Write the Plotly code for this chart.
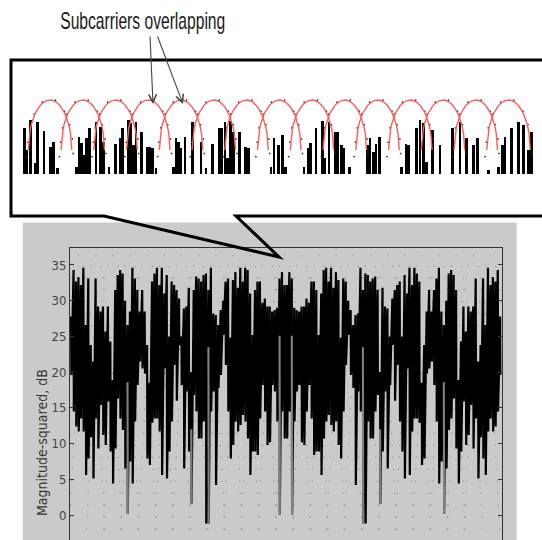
import plotly.graph_objects as go

W, H = 542, 540
def px(x): return x / W
def py(y): return 1 - y / H

NARROW = "DejaVu Sans Condensed, Liberation Sans, sans-serif"

# ---------------- data: main spectrum (stroke tops / bottoms, dB) ----------------
stroke_hi = [
    27.8, 34.3, 32.7, 33.3, 32.2, 34.6, 26.6, 33.1, 23.8, 21.5, 33.1, 29.2, 28.5, 29.2, 25.7, 29.2,
    24.3, 18.9, 31.5, 33.6, 34.3, 33.8, 30.0, 26.6, 28.5, 34.6, 33.1, 31.5, 28.5, 31.5, 28.5, 23.8,
    18.5, 32.7, 33.8, 34.6, 32.2, 34.6, 31.0, 33.6, 25.0, 32.7, 32.2, 31.5, 30.3, 25.0, 28.9, 29.2,
    31.8, 20.0, 31.5, 33.4, 33.1, 32.7, 33.6, 33.8, 31.5, 34.6, 28.2, 28.0, 26.6, 28.7, 30.0, 32.7,
    33.1, 24.8, 32.9, 34.0, 31.8, 34.6, 32.7, 34.6, 34.3, 31.0, 25.2, 31.5, 32.7, 32.7, 29.7, 30.3,
    29.2, 29.2, 28.5, 28.7, 29.0, 33.1, 34.0, 32.2,
    32.2, 34.0, 33.1, 29.0, 28.7, 28.5, 29.2, 29.2, 30.3, 29.7, 32.7, 32.7, 31.5, 25.2, 31.0, 34.3,
    34.6, 32.7, 34.6, 31.8, 34.0, 32.9, 24.8, 33.1, 32.7, 30.0, 28.7, 26.6, 28.0, 28.2, 34.6, 31.5,
    33.8, 33.6, 32.7, 33.1, 33.4, 31.5, 20.0, 31.8, 29.2, 28.9, 25.0, 30.3, 31.5, 32.2, 32.7, 25.0,
    33.6, 31.0, 34.6, 32.2, 34.6, 33.8, 32.7, 18.5, 23.8, 28.5, 31.5, 28.5, 31.5, 33.1, 34.6, 28.5,
    26.6, 30.0, 33.8, 34.3, 33.6, 31.5, 18.9, 24.3, 29.2, 25.7, 29.2, 28.5, 29.2, 33.1, 21.5, 23.8,
    33.1, 26.6, 34.6, 32.2, 33.3, 32.7, 34.3, 27.8,
]
stroke_lo = [
    19.6, 14.5, 12.4, 11.7, 13.5, 11.7, 5.6, 7.9, 10.9, 5.1, 13.5, 9.3, 15.4, 11.2, 9.8, 15.9,
    8.9, 4.4, 9.3, 16.3, 13.5, 11.9, 6.5, 0.2, 7.5, 4.4, 13.1, 18.2, 21.5, 20.5, 19.8, 7.9,
    7.0, 12.9, 13.5, 13.5, 11.7, 5.6, 20.5, 5.1, 8.9, 13.1, 21.0, 16.0, 23.8, 18.2, 6.5, 17.3,
    8.9, 1.6, 16.8, 14.5, 10.7, 10.7, 13.1, -1.2, -1.2, 14.5, 17.3, 4.2, 17.8, 19.6, 25.2, 21.0,
    14.5, 7.9, 9.8, 13.1, 11.7, 12.6, 14.0, 13.1, 10.7, 5.6, 8.9, 8.9, 8.4, 13.5, 18.2, 14.5,
    9.8, 10.2, 18.2, 17.3, 13.1, 0.0, 14.5, 10.7,
    10.7, 14.5, 0.0, 13.1, 17.3, 18.2, 10.2, 9.8, 14.5, 18.2, 13.5, 8.4, 8.9, 8.9, 5.6, 10.7,
    13.1, 14.0, 12.6, 11.7, 13.1, 9.8, 7.9, 14.5, 21.0, 25.2, 19.6, 17.8, 4.2, 17.3, 14.5, -1.2,
    -1.2, 13.1, 10.7, 10.7, 14.5, 16.8, 1.6, 8.9, 17.3, 6.5, 18.2, 23.8, 16.0, 21.0, 13.1, 8.9,
    5.1, 20.5, 5.6, 11.7, 13.5, 13.5, 12.9, 7.0, 7.9, 19.8, 20.5, 21.5, 18.2, 13.1, 4.4, 7.5,
    0.2, 6.5, 11.9, 13.5, 16.3, 9.3, 4.4, 8.9, 15.9, 9.8, 11.2, 15.4, 9.3, 13.5, 5.1, 10.9,
    7.9, 5.6, 11.7, 13.5, 11.7, 12.4, 14.5, 19.6,
]
gray_strokes = [24, 50, 57, 86, 91, 120, 127, 153]
y_ticks = [0, 5, 10, 15, 20, 25, 30, 35]
# dotted subcarrier lobes behind the spectrum (centre stroke index)
lobe_centers = [4, 11, 18, 25, 32, 39, 46, 53, 60, 67, 74, 81, 88, 95, 102, 109, 116, 123,
                130, 137, 144, 151, 158, 165, 172]
lobe_top, lobe_half = 36.3, 11.0

# ---------------- data: zoomed inset ----------------
arc_centers = list(range(1, 16))          # subcarrier index
bar_pos = [0.227, 0.289, 0.411, 0.542, 0.624, 0.817, 1.021, 1.101, 1.235, 1.815, 1.885, 1.968,
           2.017, 2.121, 2.200, 2.405, 2.548, 2.627, 2.802, 3.006, 3.137, 3.220, 3.391, 3.473,
           3.544, 3.626, 3.800, 3.983, 4.053, 4.124, 4.237, 4.765, 4.847, 4.918, 5.000, 5.122,
           5.357, 5.611, 5.763, 5.968, 6.160, 6.243, 6.344, 6.414, 6.518, 6.597, 6.780, 6.963,
           7.055, 7.748, 7.840, 7.971, 8.105, 8.185, 8.756, 8.887, 8.960, 9.122, 9.315, 9.397,
           9.519, 9.702, 9.773, 9.907, 9.977, 10.139, 10.689, 10.771, 10.872, 10.954, 11.055,
           11.739, 11.870, 11.940, 12.197, 12.298, 12.398, 12.502, 12.685, 12.908, 13.296,
           13.519, 13.724, 13.925, 14.047, 14.383, 14.689, 14.823, 14.893, 15.098, 15.299,
           15.452, 15.605, 15.708]
bar_h = [0.617, 0.324, 0.730, 0.144, 0.707, 0.581, 0.369, 0.437, 0.086, 0.099, 0.505, 0.414,
         0.257, 0.482, 0.617, 0.707, 0.640, 0.437, 0.099, 0.401, 0.482, 0.617, 0.730, 0.685,
         0.392, 0.707, 0.572, 0.369, 0.369, 0.347, 0.077, 0.099, 0.482, 0.437, 0.347, 0.505,
         0.707, 0.437, 0.077, 0.401, 0.617, 0.617, 0.707, 0.212, 0.716, 0.572, 0.572, 0.369,
         0.347, 0.099, 0.482, 0.392, 0.527, 0.099, 0.099, 0.347, 0.414, 0.617, 0.716, 0.212,
         0.707, 0.572, 0.572, 0.392, 0.347, 0.099, 0.392, 0.482, 0.302, 0.401, 0.505,
         0.099, 0.401, 0.392, 0.617, 0.730, 0.694, 0.167, 0.595, 0.392, 0.617,
         0.707, 0.482, 0.392, 0.482, 0.054, 0.099, 0.392, 0.505, 0.617, 0.707,
         0.662, 0.324, 0.572]
arc_top, arc_foot, arc_half = 1.0, 0.324, 0.663

fig = go.Figure()

# dotted subcarrier lobes (grey, faint) in the main panel
lx, ly = [], []
n = 30
for c in lobe_centers:
    for j in range(n + 1):
        u = -1 + 2 * j / n
        lx.append(c + u * lobe_half)
        ly.append(lobe_top - 40.0 * u * u)
    lx.append(None); ly.append(None)
fig.add_trace(go.Scatter(x=lx, y=ly, mode="lines",
                         line=dict(color="#8c8c8c", width=1.3, dash="1px,11px"),
                         hoverinfo="skip", showlegend=False))

# main spectrum: one continuous line, each sample drawn as a vertical stroke
xs, ys = [], []
for i, (h, l) in enumerate(zip(stroke_hi, stroke_lo), start=1):
    xs += [i, i + 0.12]
    ys += [h, l]
fig.add_trace(go.Scatter(x=xs, y=ys, mode="lines", line=dict(color="black", width=2.2),
                         hoverinfo="skip", showlegend=False))
gx, gy = [], []
for i in gray_strokes:
    gx += [i, i + 0.12, None]
    gy += [stroke_hi[i - 1] - 8, stroke_lo[i - 1], None]
fig.add_trace(go.Scatter(x=gx, y=gy, mode="lines", line=dict(color="#808080", width=2.1),
                         hoverinfo="skip", showlegend=False))

# inset: bars + red subcarrier lobes + dotted lobe samples
fig.add_trace(go.Bar(x=bar_pos, y=bar_h, width=0.08, marker=dict(color="black", line_width=0),
                     xaxis="x2", yaxis="y2", hoverinfo="skip", showlegend=False))
ax_, ay_, dx_, dy_ = [], [], [], []
n = 40
for c in arc_centers:
    for j in range(n + 1):
        u = -1 + 2 * j / n
        ax_.append(c + u * arc_half)
        ay_.append(arc_foot + (arc_top - arc_foot) * (max(0.0, 1 - u * u)) ** 0.5)
        dx_.append(c + u * arc_half * 1.08)
        dy_.append(arc_foot - 0.1 + (arc_top + 0.12 - arc_foot) * (max(0.0, 1 - u * u)) ** 0.5)
    ax_.append(None); ay_.append(None)
    dx_.append(None); dy_.append(None)
fig.add_trace(go.Scatter(x=dx_, y=dy_, mode="lines",
                         line=dict(color="#333333", width=1.6, dash="1.5px,13px"),
                         xaxis="x2", yaxis="y2", hoverinfo="skip", showlegend=False))
fig.add_trace(go.Scatter(x=ax_, y=ay_, mode="lines", line=dict(color="#ff5c5c", width=1.4),
                         xaxis="x2", yaxis="y2", hoverinfo="skip", showlegend=False))

shapes = [
    dict(type="rect", xref="paper", yref="paper", x0=px(22.7), x1=px(516.7), y0=-0.05, y1=py(222.5),
         fillcolor="#cacaca", line_width=0, layer="below"),
    dict(type="path", xref="paper", yref="paper", layer="above",
         path=(f"M 1.02,{py(60)} L {px(11)},{py(60)} L {px(11)},{py(216)} L {px(104)},{py(216)} "
               f"L {px(279)},{py(257)} L {px(236)},{py(216)} L 1.02,{py(216)}"),
         line=dict(color="black", width=3)),
]

annotations = [
    dict(text="Subcarriers overlapping", xref="paper", yref="paper", x=px(142.5), y=py(21),
         xanchor="center", yanchor="middle", showarrow=False,
         font=dict(family="Liberation Sans, Arial, sans-serif", size=24, color="#1a1a1a")),
    dict(text="Magnitude-squared, dB", xref="paper", yref="paper", x=px(42), y=py(443),
         textangle=-90, showarrow=False, xanchor="center", yanchor="middle",
         font=dict(family=NARROW, size=14, color="#333333")),
]
for (tx, ty, hx, hy) in [(150, 35, 153, 104), (157, 35, 183, 104)]:
    annotations.append(dict(text="", xref="paper", yref="paper", x=px(hx), y=py(hy),
                            axref="pixel", ayref="pixel", ax=tx - hx, ay=ty - hy,
                            showarrow=True, arrowhead=5, arrowsize=1.4, arrowwidth=1.1,
                            arrowcolor="#444444", standoff=0, startstandoff=0))

fig.update_layout(
    width=W, height=H, margin=dict(l=0, r=0, t=0, b=0, pad=0),
    paper_bgcolor="white", plot_bgcolor="white", showlegend=False,
    bargap=0,
    xaxis=dict(domain=[px(70), px(501.7)], range=[0.55, 176.6], side="top", showline=True,
               linecolor="#333333", linewidth=1, showticklabels=False, ticks="",
               showgrid=False, zeroline=False, automargin=False, fixedrange=True),
    yaxis=dict(domain=[0, py(247.7)], range=[-3.5, 37.42], showline=True, mirror="ticks",
               linecolor="#333333", linewidth=1, ticks="inside", ticklen=4, tickcolor="#333333",
               tickvals=y_ticks, ticktext=[str(v) for v in y_ticks],
               tickfont=dict(family=NARROW, size=13, color="#444444"),
               showgrid=False, zeroline=False, automargin=False, fixedrange=True),
    xaxis2=dict(domain=[0, 1], range=[-0.527, 16.023], anchor="y2", visible=False, fixedrange=True),
    yaxis2=dict(domain=[py(216), py(60)], range=[-0.5676, 1.5405], anchor="x2", visible=False,
                fixedrange=True),
    shapes=shapes, annotations=annotations,
)

post = """
document.body.style.margin = '0';
document.querySelectorAll('text.annotation-text').forEach(function (t) {
  if (t.textContent.indexOf('Subcarriers') === 0) {
    t.setAttribute('textLength', '165');
    t.setAttribute('lengthAdjust', 'spacingAndGlyphs');
  }
});
"""
fig.write_html("out.html", post_script=post, config={"displayModeBar": False})
